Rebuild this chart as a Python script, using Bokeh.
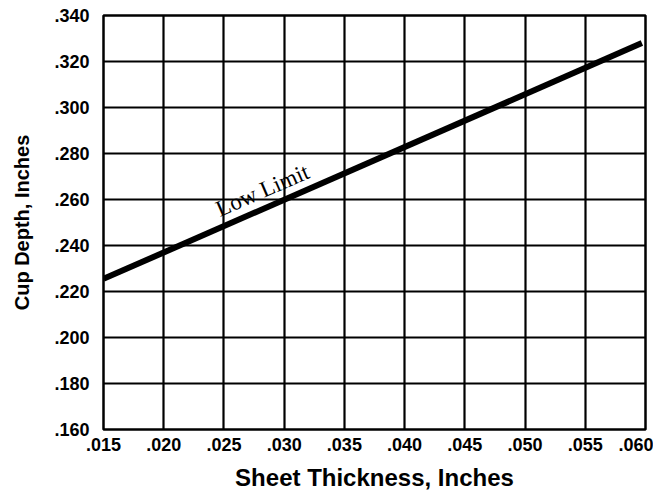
from bokeh.plotting import figure
from bokeh.models import FixedTicker, Range1d
from bokeh.embed import file_html
from bokeh.resources import INLINE
from bokeh.core.properties import value

# Data
x_ticks = [0.015, 0.020, 0.025, 0.030, 0.035, 0.040, 0.045, 0.050, 0.055, 0.060]
x_labels = [".015", ".020", ".025", ".030", ".035", ".040", ".045", ".050", ".055", ".060"]
y_ticks = [0.160, 0.180, 0.200, 0.220, 0.240, 0.260, 0.280, 0.300, 0.320, 0.340]
y_labels = [".160", ".180", ".200", ".220", ".240", ".260", ".280", ".300", ".320", ".340"]

low_limit_x = [0.015, 0.0597]
low_limit_y = [0.2255, 0.3280]

label_x = [0.0282]
label_y = [0.2640]
label_text = ["Low Limit"]

p = figure(width=653, height=493, output_backend="svg", toolbar_location=None,
           x_range=Range1d(0.015, 0.060), y_range=Range1d(0.160, 0.340),
           min_border_left=103, min_border_right=8, min_border_top=15, min_border_bottom=63)
p.background_fill_color = "white"
p.border_fill_color = "white"
p.outline_line_color = "black"
p.outline_line_width = 2.5

for ax in (p.xaxis[0], p.yaxis[0]):
    ax.axis_line_color = None
    ax.major_tick_line_color = None
    ax.minor_tick_line_color = None
    ax.major_tick_out = 0
    ax.major_tick_in = 0
    ax.minor_tick_out = 0
    ax.minor_tick_in = 0
    ax.major_label_text_font = "Liberation Sans"
    ax.major_label_text_font_style = "bold"
    ax.major_label_text_font_size = "18px"
    ax.major_label_text_color = "black"
    ax.axis_label_text_font = "Liberation Sans"
    ax.axis_label_text_font_style = "bold"
    ax.axis_label_text_color = "black"

p.xaxis.ticker = FixedTicker(ticks=x_ticks)
p.yaxis.ticker = FixedTicker(ticks=y_ticks)
p.xaxis.major_label_overrides = dict(zip(x_ticks, x_labels))
p.yaxis.major_label_overrides = dict(zip(y_ticks, y_labels))

p.xaxis.axis_label = "Sheet Thickness, Inches"
p.xaxis.axis_label_text_font_size = "24px"
p.xaxis.axis_label_standoff = 10
p.xaxis.major_label_standoff = 8

p.yaxis.axis_label = "Cup Depth, Inches"
p.yaxis.axis_label_text_font_size = "20px"
p.yaxis.axis_label_standoff = 18
p.yaxis.major_label_standoff = 14

p.xgrid.ticker = FixedTicker(ticks=x_ticks)
p.ygrid.ticker = FixedTicker(ticks=y_ticks)
for g in (p.xgrid[0], p.ygrid[0]):
    g.grid_line_color = "black"
    g.grid_line_width = 2.2
    g.grid_line_alpha = 1.0

p.line(low_limit_x, low_limit_y, line_color="black", line_width=6)

p.text(x=label_x, y=label_y, text=label_text, angle=0.41,
       text_font=value("Liberation Serif"), text_font_size="23px",
       text_align="center", text_baseline="middle", text_color="black")

open("out.html", "w").write(file_html(p, INLINE))
